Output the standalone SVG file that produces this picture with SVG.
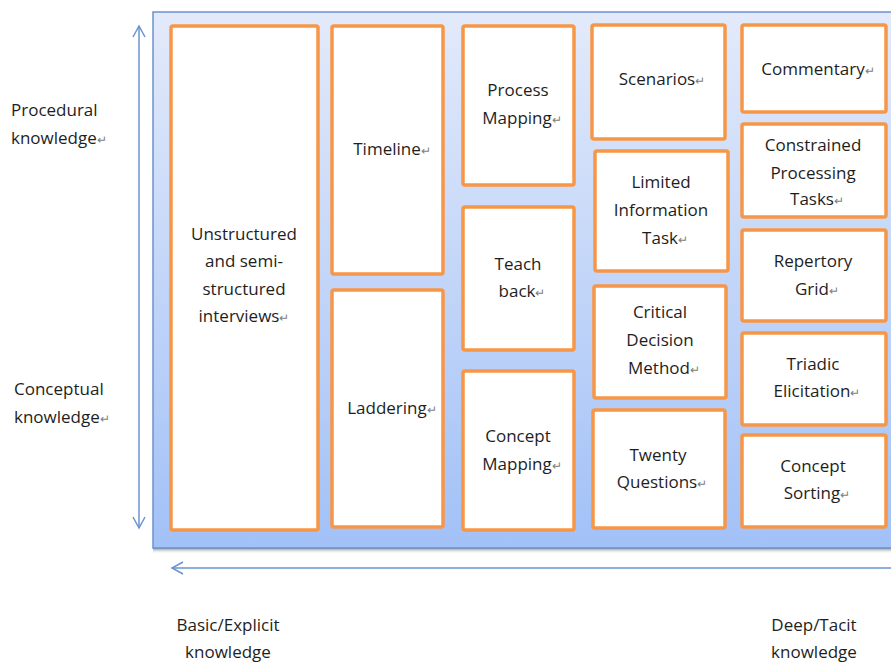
<svg xmlns="http://www.w3.org/2000/svg" width="891" height="664" viewBox="0 0 891 664">
<style>
.t{font-family:"Open Sans","Liberation Sans",sans-serif;font-size:17px;fill:#1e1e1e;text-anchor:middle}
.tl{font-family:"Open Sans","Liberation Sans",sans-serif;font-size:17px;fill:#1e1e1e}
.r{font-size:12px;fill:#808080}
.box{fill:#ffffff;stroke:#f79646;stroke-width:3.5}
.ax{stroke:#6a93cf;stroke-width:1.5;fill:none}
</style>
<defs>
<linearGradient id="bg" x1="0" y1="0" x2="0" y2="1">
<stop offset="0" stop-color="#e3eafa"/>
<stop offset="1" stop-color="#a2c1f7"/>
</linearGradient>
<linearGradient id="sh" x1="0" y1="0" x2="0" y2="1">
<stop offset="0" stop-color="#8c8c8c"/>
<stop offset="1" stop-color="#ffffff" stop-opacity="0"/>
</linearGradient>
</defs>
<g id="panel">
<rect x="153" y="548" width="740" height="6" fill="url(#sh)"/>
<rect x="153" y="12" width="740" height="536" fill="url(#bg)" stroke="#6c93cc" stroke-width="1.5"/>
</g>
<g id="connectors">
<line class="ax" x1="139" y1="26" x2="139" y2="528"/>
<polyline class="ax" points="133,37 139,26 145,37"/>
<polyline class="ax" points="133,517 139,528 145,517"/>
<line class="ax" x1="172" y1="568" x2="891" y2="568"/>
<polyline class="ax" points="183,562 172,568 183,574"/>
</g>
<g id="axis-labels">
<text class="tl" x="11" y="116">Procedural</text>
<text class="tl" x="11" y="144">knowledge<tspan class="r">↵</tspan></text>
<text class="tl" x="14" y="395">Conceptual</text>
<text class="tl" x="14" y="423">knowledge<tspan class="r">↵</tspan></text>
<text class="t" x="228" y="631">Basic/Explicit</text>
<text class="t" x="228" y="658">knowledge</text>
<text class="t" x="814" y="631">Deep/Tacit</text>
<text class="t" x="814" y="658">knowledge</text>
</g>
<g id="n-unstructured">
<rect class="box" x="171" y="26" width="147" height="504" rx="2"/>
<text class="t" x="244" y="240">Unstructured</text>
<text class="t" x="244" y="267">and semi-</text>
<text class="t" x="244" y="295">structured</text>
<text class="t" x="244" y="322">interviews<tspan class="r">↵</tspan></text>
</g>
<g id="n-timeline">
<rect class="box" x="332" y="26" width="111" height="248" rx="2"/>
<text class="t" x="392" y="155">Timeline<tspan class="r">↵</tspan></text>
</g>
<g id="n-laddering">
<rect class="box" x="332" y="290" width="111" height="237" rx="2"/>
<text class="t" x="392" y="414">Laddering<tspan class="r">↵</tspan></text>
</g>
<g id="n-process">
<rect class="box" x="463" y="26" width="111" height="159" rx="2"/>
<text class="t" x="518" y="96">Process</text>
<text class="t" x="522" y="124">Mapping<tspan class="r">↵</tspan></text>
</g>
<g id="n-teach">
<rect class="box" x="463" y="207" width="111" height="143" rx="2"/>
<text class="t" x="518" y="270">Teach</text>
<text class="t" x="522" y="297">back<tspan class="r">↵</tspan></text>
</g>
<g id="n-conceptmap">
<rect class="box" x="463" y="371" width="111" height="159" rx="2"/>
<text class="t" x="518" y="442">Concept</text>
<text class="t" x="522" y="470">Mapping<tspan class="r">↵</tspan></text>
</g>
<g id="n-scenarios">
<rect class="box" x="592" y="25" width="133" height="114" rx="2"/>
<text class="t" x="662" y="85">Scenarios<tspan class="r">↵</tspan></text>
</g>
<g id="n-limited">
<rect class="box" x="595" y="151" width="133" height="120" rx="2"/>
<text class="t" x="661" y="188">Limited</text>
<text class="t" x="661" y="216">Information</text>
<text class="t" x="665" y="244">Task<tspan class="r">↵</tspan></text>
</g>
<g id="n-critical">
<rect class="box" x="594" y="286" width="132" height="112" rx="2"/>
<text class="t" x="660" y="318">Critical</text>
<text class="t" x="660" y="346">Decision</text>
<text class="t" x="664" y="374">Method<tspan class="r">↵</tspan></text>
</g>
<g id="n-twenty">
<rect class="box" x="593" y="410" width="132" height="118" rx="2"/>
<text class="t" x="658" y="461">Twenty</text>
<text class="t" x="662" y="488">Questions<tspan class="r">↵</tspan></text>
</g>
<g id="n-commentary">
<rect class="box" x="742" y="25" width="144" height="87" rx="2"/>
<text class="t" x="818" y="75">Commentary<tspan class="r">↵</tspan></text>
</g>
<g id="n-constrained">
<rect class="box" x="742" y="124" width="144" height="93" rx="2"/>
<text class="t" x="813" y="151">Constrained</text>
<text class="t" x="813" y="179">Processing</text>
<text class="t" x="817" y="205">Tasks<tspan class="r">↵</tspan></text>
</g>
<g id="n-repertory">
<rect class="box" x="742" y="230" width="144" height="91" rx="2"/>
<text class="t" x="813" y="267">Repertory</text>
<text class="t" x="817" y="295">Grid<tspan class="r">↵</tspan></text>
</g>
<g id="n-triadic">
<rect class="box" x="742" y="333" width="144" height="92" rx="2"/>
<text class="t" x="813" y="370">Triadic</text>
<text class="t" x="817" y="397">Elicitation<tspan class="r">↵</tspan></text>
</g>
<g id="n-sorting">
<rect class="box" x="742" y="435" width="144" height="92" rx="2"/>
<text class="t" x="813" y="472">Concept</text>
<text class="t" x="817" y="499">Sorting<tspan class="r">↵</tspan></text>
</g>
</svg>
